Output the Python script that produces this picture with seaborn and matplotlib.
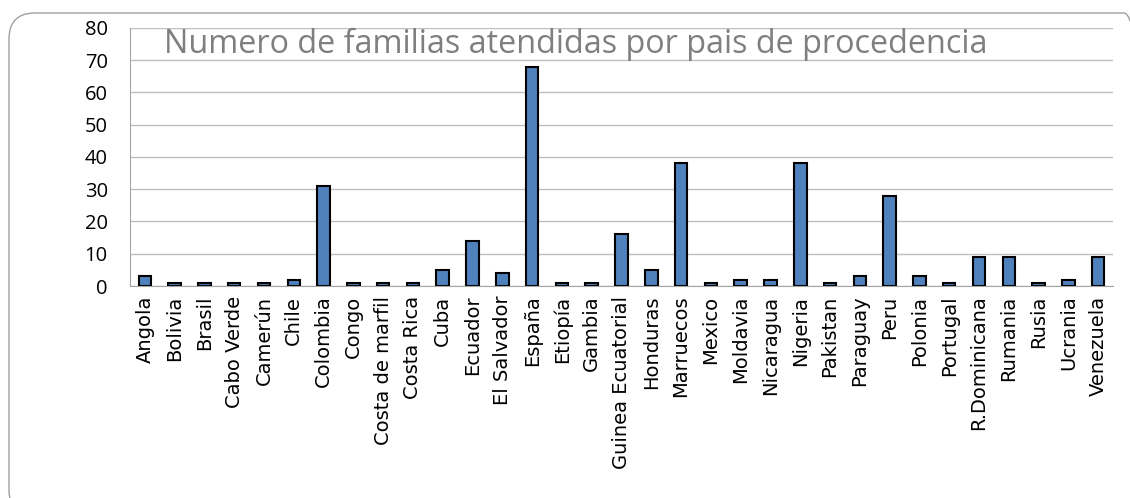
import pandas as pd
import seaborn as sns
from matplotlib import pyplot as plt
from matplotlib.patches import FancyBboxPatch
from matplotlib.transforms import IdentityTransform

# datos
paises = ["Angola", "Bolivia", "Brasil", "Cabo Verde", "Camerún", "Chile", "Colombia",
          "Congo", "Costa de marfil", "Costa Rica", "Cuba", "Ecuador", "El Salvador",
          "España", "Etiopía", "Gambia", "Guinea Ecuatorial", "Honduras", "Marruecos",
          "Mexico", "Moldavia", "Nicaragua", "Nigeria", "Pakistan", "Paraguay", "Peru",
          "Polonia", "Portugal", "R.Dominicana", "Rumania", "Rusia", "Ucrania", "Venezuela"]
familias = [3, 1, 1, 1, 1, 2, 31, 1, 1, 1, 5, 14, 4, 68, 1, 1, 16, 5, 38, 1, 2, 2, 38,
            1, 3, 28, 3, 1, 9, 9, 1, 2, 9]
titulo = "Numero de familias atendidas por pais de procedencia"

df = pd.DataFrame({"pais": paises, "familias": familias})

sns.set_style("white")
plt.rcParams['font.family'] = ['Open Sans', 'DejaVu Sans']

fig = plt.figure(figsize=(11.3, 4.98), dpi=100)
ax = fig.add_axes([0.115, 0.4257, 0.87, 0.5181])

# borde redondeado del grafico (en pixeles), sale por la derecha y por abajo
borde = FancyBboxPatch((9, -18), 1141, 503, boxstyle="round,pad=0,rounding_size=26",
                       transform=IdentityTransform(), facecolor="none", edgecolor="#A0A0A0",
                       linewidth=1.0, clip_on=False)
fig.patches.append(borde)

sns.barplot(data=df, x="pais", y="familias", color="#4F81BD", edgecolor="black",
            linewidth=1.5, width=0.42, saturation=1, ax=ax)

ax.set_ylim(0, 80)
ax.set_xlim(-0.5, len(paises) - 0.5)
ax.set_yticks(range(0, 81, 10))
ax.yaxis.grid(True, color="#BFBFBF", linewidth=1.0)
ax.set_axisbelow(True)
ax.set_xlabel("")
ax.set_ylabel("")
ax.tick_params(axis="y", labelsize=14.5, length=0, pad=16, labelcolor="black")
ax.tick_params(axis="x", labelsize=14, length=0, pad=7, rotation=90, labelcolor="black")
for lab in ax.get_xticklabels():
    lab.set_family("DejaVu Sans")
for s in ["top", "right"]:
    ax.spines[s].set_visible(False)
for s in ["left", "bottom"]:
    ax.spines[s].set_color("#A6A6A6")

ax.text(0.035, 0.903, titulo, transform=ax.transAxes, fontsize=23.3, color="#7F7F7F",
        va="baseline", ha="left")

fig.savefig("out.png", dpi=100)
